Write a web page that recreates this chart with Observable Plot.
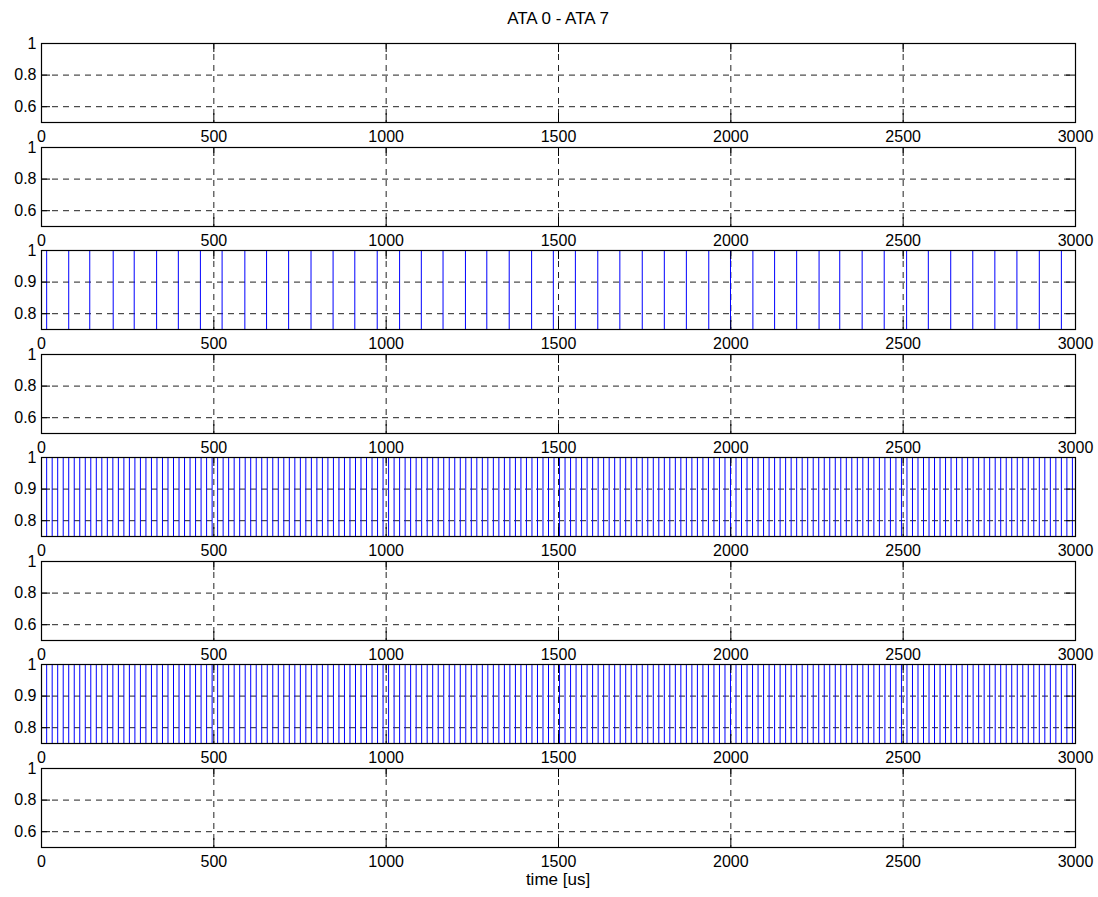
<!DOCTYPE html>
<html><head><meta charset="utf-8">
<script src="https://cdn.jsdelivr.net/npm/d3@7"></script>
<script src="https://cdn.jsdelivr.net/npm/@observablehq/plot@0.6"></script>
<style>
html,body{margin:0;padding:0;background:#fff;overflow:hidden;}
#fig{position:relative;width:1098px;height:897px;font-family:"Liberation Sans",Arial,Helvetica,sans-serif;}
#fig svg{position:absolute;left:0;overflow:visible;background:transparent;}
.lbl{position:absolute;font-size:17px;color:#000;white-space:nowrap;transform:translate(-50%,-50%);line-height:1;}
</style></head><body><div id="fig"></div>
<script>
const title = "ATA 0 - ATA 7";
const xLabel = "time [us]";
const xTicks = [0, 500, 1000, 1500, 2000, 2500, 3000];
const yTicksWide = [0.6, 0.8, 1];
const yTicksNarrow = [0.8, 0.9, 1];
const yDomainWide = [0.5, 1];
const yDomainNarrow = [0.75, 1];
const signalLevels = [1, 0];

// transition times (us)
const ata2Edges = [15, 79, 140, 208, 269, 334, 397, 461, 524, 590, 653, 717, 782, 846, 909, 974,
  1039, 1102, 1165, 1230, 1292, 1357, 1422, 1485, 1549, 1614, 1678, 1743, 1807, 1871, 1936, 1999,
  2064, 2127, 2191, 2256, 2316, 2381, 2445, 2510, 2573, 2638, 2702, 2766, 2830, 2895, 2959];

const ata4Edges = [15,31,47,63,79,95,111,127,143,159,175,191,207,223,239,255,271,287,303,319,335,351,367,383,399,415,431,447,463,479,495,511,527,543,559,575,591,607,623,639,655,671,687,703,719,735,751,767,783,799,815,831,847,863,879,895,911,927,943,959,975,991,
  1007,1023,1039,1055,1071,1087,1103,1119,1135,1151,1167,1183,1199,1215,1231,1247,1263,1279,1295,1311,1327,1343,1359,1375,1391,1407,1423,1439,1455,1471,1487,1503,1519,1535,1551,1567,1583,1599,1615,1631,1647,1663,1679,1695,1711,1727,1743,1759,1775,1791,1807,1823,1839,1855,1871,1887,1903,1919,1935,1951,1967,1983,1999,
  2015,2031,2047,2063,2079,2095,2111,2127,2143,2159,2175,2191,2207,2223,2239,2255,2271,2287,2303,2319,2335,2351,2367,2383,2399,2415,2431,2447,2463,2479,2495,2511,2527,2543,2559,2575,2591,2607,2623,2639,2655,2671,2687,2703,2719,2735,2751,2767,2783,2799,2815,2831,2847,2863,2879,2895,2911,2927,2943,2959,2975,2991];

const ata6Edges = ata4Edges.slice();

const panels = [
  {name: "ATA 0", edges: null, domain: yDomainWide, ticks: yTicksWide},
  {name: "ATA 1", edges: null, domain: yDomainWide, ticks: yTicksWide},
  {name: "ATA 2", edges: ata2Edges, domain: yDomainNarrow, ticks: yTicksNarrow},
  {name: "ATA 3", edges: null, domain: yDomainWide, ticks: yTicksWide},
  {name: "ATA 4", edges: ata4Edges, domain: yDomainNarrow, ticks: yTicksNarrow},
  {name: "ATA 5", edges: null, domain: yDomainWide, ticks: yTicksWide},
  {name: "ATA 6", edges: ata6Edges, domain: yDomainNarrow, ticks: yTicksNarrow},
  {name: "ATA 7", edges: null, domain: yDomainWide, ticks: yTicksWide}
];

function stepData(edges) {
  const pts = [];
  let k = 0;
  pts.push({t: 0, v: signalLevels[k]});
  for (const e of edges) { k = 1 - k; pts.push({t: e, v: signalLevels[k]}); }
  pts.push({t: 3000, v: signalLevels[k]});
  return pts;
}

const W = 1098, ML = 41, MR = 23, MT = 12, MB = 26, PH = 79, FIRST = 43, PITCH = 103.5;
const FONT = "\"Liberation Sans\", Arial, Helvetica, sans-serif";
const FS = 16;
const gridStyle = {stroke: "#222", strokeOpacity: 1, strokeWidth: 1, strokeDasharray: "6,5"};
const fig = document.getElementById("fig");

panels.forEach((p, i) => {
  const [y0, y1] = p.domain;
  const tlY = (y1 - y0) * 9 / PH;
  const tlX = 3000 * 9 / (W - ML - MR);
  const marks = [
    Plot.gridY(p.ticks.filter(t => t < 1), gridStyle),
    Plot.gridX(xTicks.slice(1, -1), gridStyle),
    p.edges ? Plot.line(stepData(p.edges), {x: "t", y: "v", curve: "step-after", stroke: "#0000ff", strokeWidth: 1, clip: true}) : null,
    Plot.ruleX(xTicks, {y1: y0, y2: y0 + tlY, stroke: "#000"}),
    Plot.ruleX(xTicks, {y1: y1, y2: y1 - tlY, stroke: "#000"}),
    Plot.ruleY(p.ticks, {x1: 0, x2: tlX, stroke: "#000"}),
    Plot.ruleY(p.ticks, {x1: 3000, x2: 3000 - tlX, stroke: "#000"}),
    Plot.frame({stroke: "#000", strokeWidth: 1.2}),
    Plot.axisX(xTicks, {tickSize: 0, tickPadding: 8, fontSize: FS, tickFormat: d => String(d), label: null}),
    Plot.axisY(p.ticks, {tickSize: 0, tickPadding: 5, fontSize: FS, tickFormat: d => String(d), label: null})
  ].filter(Boolean);
  const svg = Plot.plot({
    width: W, height: MT + PH + MB,
    marginLeft: ML, marginRight: MR, marginTop: MT, marginBottom: MB,
    x: {domain: [0, 3000]},
    y: {domain: p.domain},
    style: {fontFamily: FONT, fontSize: FS + "px", background: "transparent", overflow: "visible", color: "#000"},
    marks
  });
  svg.style.top = (Math.round(FIRST + i * PITCH) - MT) + "px";
  fig.appendChild(svg);
});

function addLabel(text, x, y) {
  const d = document.createElement("div");
  d.className = "lbl";
  d.textContent = text;
  d.style.left = x + "px";
  d.style.top = y + "px";
  fig.appendChild(d);
}
addLabel(title, (ML + W - MR) / 2, 18);
addLabel(xLabel, (ML + W - MR) / 2, 879);
</script></body></html>
